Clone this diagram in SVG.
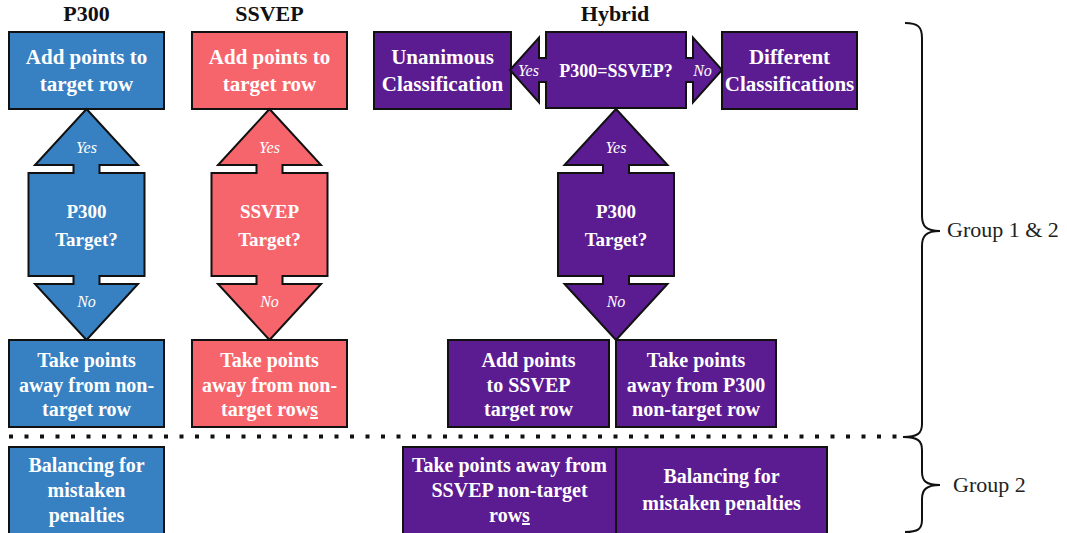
<svg xmlns="http://www.w3.org/2000/svg" width="1067" height="533" viewBox="0 0 1067 533">
<style>
.bl{fill:#3780C2;stroke:#111;stroke-width:2}
.rd{fill:#F7656C;stroke:#111;stroke-width:2}
.pu{fill:#5B1B91;stroke:#111;stroke-width:2}
text{font-family:"Liberation Serif","Times New Roman",serif;text-anchor:middle}
.t{fill:#fff;font-weight:bold;font-size:20px}
.t21{fill:#fff;font-weight:bold;font-size:21px}
.q{fill:#fff;font-weight:bold;font-size:19px}
.q2{fill:#fff;font-weight:bold;font-size:18px}
.yn{fill:#fff;font-style:italic;font-size:16px}
.h{fill:#111;font-weight:bold;font-size:22px}
.g{fill:#222;font-size:22px;text-anchor:start}
.u{text-decoration:underline}
</style>
<rect width="1067" height="533" fill="#fff"/>
<g id="headers">
<text class="h" x="86.5" y="21">P300</text>
<text class="h" x="269.5" y="21">SSVEP</text>
<text class="h" x="615" y="21">Hybrid</text>
</g>
<g id="p300-add"><rect class="bl" x="9" y="32" width="155" height="77"/>
<text class="t21" x="86.5" y="64">Add points to</text><text class="t21" x="86.5" y="91">target row</text></g>
<g id="ssvep-add"><rect class="rd" x="192" y="32" width="155" height="77"/>
<text class="t21" x="269.5" y="64">Add points to</text><text class="t21" x="269.5" y="91">target row</text></g>
<g id="unanimous"><rect class="pu" x="374" y="32" width="137" height="77"/>
<text class="t21" x="442.5" y="64">Unanimous</text><text class="t21" x="442.5" y="91">Classification</text></g>
<g id="different"><rect class="pu" x="722" y="32" width="135" height="77"/>
<text class="t21" x="789.5" y="64">Different</text><text class="t21" x="789.5" y="91">Classifications</text></g>
<g id="p300eq"><polygon class="pu" points="510,70 539,37.5 539,58 546,58 546,32 686,32 686,58 693,58 693,37.5 722,70 693,102.5 693,82 686,82 686,108 546,108 546,82 539,82 539,102.5"/>
<text class="yn" x="528.5" y="76">Yes</text><text class="yn" x="702.5" y="76">No</text>
<text class="q2" x="616" y="77">P300=SSVEP?</text></g>
<g id="p300-target"><polygon class="bl" points="86.5,109 138,165 99.5,165 99.5,173 144.5,173 144.5,276 99.5,276 99.5,284 138,284 86.5,340 35,284 73.5,284 73.5,276 28.5,276 28.5,173 73.5,173 73.5,165 35,165"/>
<text class="yn" x="86.5" y="152.5">Yes</text><text class="yn" x="86.5" y="306.5">No</text>
<text class="q" x="86.5" y="218">P300</text><text class="q" x="86.5" y="246">Target?</text></g>
<g id="ssvep-target"><polygon class="rd" points="269.5,109 321,165 282.5,165 282.5,173 327.5,173 327.5,276 282.5,276 282.5,284 321,284 269.5,340 218,284 256.5,284 256.5,276 211.5,276 211.5,173 256.5,173 256.5,165 218,165"/>
<text class="yn" x="269.5" y="152.5">Yes</text><text class="yn" x="269.5" y="306.5">No</text>
<text class="q" x="269.5" y="218">SSVEP</text><text class="q" x="269.5" y="246">Target?</text></g>
<g id="hybrid-target"><polygon class="pu" points="616,109 667.5,165 629,165 629,173 674,173 674,276 629,276 629,284 667.5,284 616,340 564.5,284 603,284 603,276 558,276 558,173 603,173 603,165 564.5,165"/>
<text class="yn" x="616" y="152.5">Yes</text><text class="yn" x="616" y="306.5">No</text>
<text class="q" x="616" y="218">P300</text><text class="q" x="616" y="246">Target?</text></g>
<g id="p300-take"><rect class="bl" x="9" y="340" width="155" height="87"/>
<text class="t" x="86.5" y="367">Take points</text><text class="t" x="86.5" y="392">away from non-</text><text class="t" x="86.5" y="416">target row</text></g>
<g id="ssvep-take"><rect class="rd" x="192" y="340" width="155" height="87"/>
<text class="t" x="269.5" y="367">Take points</text><text class="t" x="269.5" y="392">away from non-</text><text class="t" x="269.5" y="416">target row<tspan class="u">s</tspan></text></g>
<g id="hybrid-add"><rect class="pu" x="448" y="340" width="161" height="87"/>
<text class="t" x="528.5" y="367">Add points</text><text class="t" x="528.5" y="392">to SSVEP</text><text class="t" x="528.5" y="416">target row</text></g>
<g id="hybrid-take"><rect class="pu" x="616" y="340" width="160" height="87"/>
<text class="t" x="696" y="367">Take points</text><text class="t" x="696" y="392">away from P300</text><text class="t" x="696" y="416">non-target row</text></g>
<g id="p300-balance"><rect class="bl" x="9" y="447" width="155" height="90"/>
<text class="t" x="86.5" y="472">Balancing for</text><text class="t" x="86.5" y="497">mistaken</text><text class="t" x="86.5" y="522">penalties</text></g>
<g id="hybrid-take2"><rect class="pu" x="403" y="447" width="213" height="90"/>
<text class="t" x="509.5" y="472">Take points away from</text><text class="t" x="509.5" y="497">SSVEP non-target</text><text class="t" x="509.5" y="522">row<tspan class="u">s</tspan></text></g>
<g id="hybrid-balance"><rect class="pu" x="616" y="447" width="211" height="90"/>
<text class="t" x="721.5" y="483">Balancing for</text><text class="t" x="721.5" y="510">mistaken penalties</text></g>
<g id="connectors" fill="none" stroke="#111">
<line x1="9" y1="436.5" x2="900" y2="436.5" stroke-width="4" stroke-dasharray="4 11.5"/>
<path stroke-width="2" d="M905,23 C918,23 922,27 922,38 L922,216 C922,226 926,231 940,231 C926,231 922,236 922,246 L922,424 C922,433 918,437 903,437"/>
<path stroke-width="2" d="M903,437 C918,437 922,441 922,450 L922,472 C922,481 926,485 940,485 C926,485 922,490 922,499 L922,520 C922,529 918,532 905,532"/>
</g>
<g id="labels">
<text class="g" x="947" y="237">Group 1 &amp; 2</text>
<text class="g" x="953" y="492">Group 2</text>
</g>
</svg>
